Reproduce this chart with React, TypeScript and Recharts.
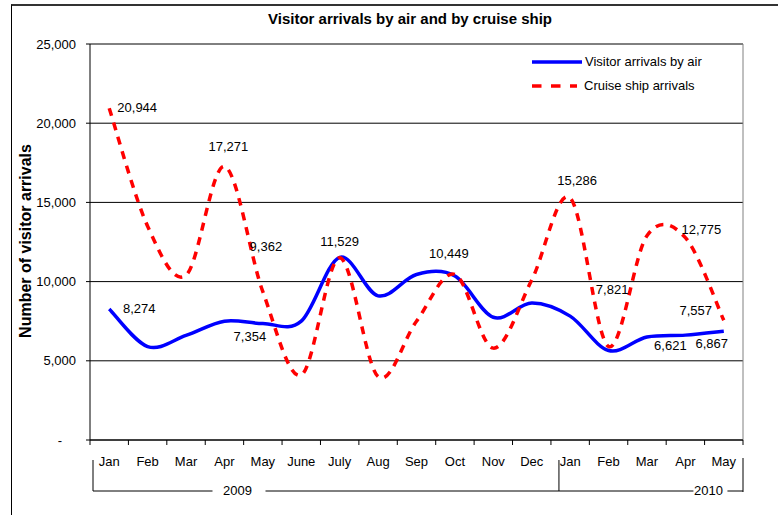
import React from 'react';
import { LineChart, Line, XAxis, YAxis, CartesianGrid, Legend, LabelList, Label } from 'recharts';

// ---------- data ----------
const months = ['Jan', 'Feb', 'Mar', 'Apr', 'May', 'June', 'July', 'Aug', 'Sep', 'Oct', 'Nov', 'Dec', 'Jan', 'Feb', 'Mar', 'Apr', 'May'];
const years = ['2009', '2009', '2009', '2009', '2009', '2009', '2009', '2009', '2009', '2009', '2009', '2009', '2010', '2010', '2010', '2010', '2010'];
const airArrivals = [8274, 5900, 6600, 7500, 7354, 7500, 11529, 9100, 10450, 10350, 7750, 8650, 7821, 5650, 6500, 6621, 6867];
const cruiseArrivals = [20944, 13500, 10400, 17271, 9362, 4100, 11500, 4000, 7500, 10449, 5800, 10100, 15286, 5900, 12900, 12775, 7557];
const airLabelShown = [true, false, false, false, true, false, true, false, false, false, false, false, true, false, false, true, true];
const cruiseLabelShown = [true, false, false, true, true, false, false, false, false, true, false, false, true, false, false, true, true];
const yTicks = [0, 5000, 10000, 15000, 20000, 25000];
const seriesOrder = ['air', 'cruise'];
const seriesNames = { air: 'Visitor arrivals by air', cruise: 'Cruise ship arrivals' };
const chartTitle = 'Visitor arrivals by air and by cruise ship';
const yAxisTitle = 'Number of visitor arrivals';

const data = months.map((m, i) => ({
  key: `${m} ${years[i]}`,
  month: m,
  year: years[i],
  air: airArrivals[i],
  cruise: cruiseArrivals[i],
}));

// ---------- layout / style ----------
const W = 778;
const H = 515;
const MARGIN = { top: 44, right: 35, bottom: 15, left: 10 };
const Y_AXIS_W = 80;
const X_AXIS_H = 60;
const PLOT_W = W - MARGIN.left - Y_AXIS_W - MARGIN.right;
const BAND = PLOT_W / months.length;
const FONT = '"Liberation Sans", Arial, Helvetica, sans-serif';
const BLUE = '#0000FF';
const RED = '#FF0000';

// manual label placements (dx, dy from the point)
const airLabelOffsets: Record<number, [number, number]> = {
  0: [30, 0], 4: [-13, 13], 6: [0, -16], 12: [42, -27], 15: [-15, 10], 16: [-12, 12],
};
const cruiseLabelOffsets: Record<number, [number, number]> = {
  0: [28, -1], 3: [4, -20], 4: [3, -45], 9: [-6, -21], 12: [7, -17], 15: [16, -8], 16: [-28, -10],
};

// year bracket style
const bracketInset = [3, 8];
const yearLabelFrac = [0.32, 0.82];
const yearGap = [[-25, 28], [-15, 19]];

// Catmull-Rom style smoothing (like Excel smoothed lines)
const smoothCurve = (context: any) => {
  let pts: [number, number][] = [];
  return {
    areaStart() {},
    areaEnd() {},
    lineStart() {
      pts = [];
    },
    point(x: number, y: number) {
      pts.push([+x, +y]);
    },
    lineEnd() {
      const n = pts.length;
      if (!n) return;
      context.moveTo(pts[0][0], pts[0][1]);
      for (let i = 0; i < n - 1; i++) {
        const p0 = pts[i - 1] || pts[i];
        const p1 = pts[i];
        const p2 = pts[i + 1];
        const p3 = pts[i + 2] || pts[i + 1];
        context.bezierCurveTo(
          p1[0] + (p2[0] - p0[0]) / 6,
          p1[1] + (p2[1] - p0[1]) / 6,
          p2[0] - (p3[0] - p1[0]) / 6,
          p2[1] - (p3[1] - p1[1]) / 6,
          p2[0],
          p2[1]
        );
      }
    },
  };
};

const fmt = (v: number) => v.toLocaleString('en-US');

const makeLabel = (shown: boolean[], offsets: Record<number, [number, number]>) => (props: any) => {
  const { x, y, value, index } = props;
  if (!shown[index]) return null;
  const [dx, dy] = offsets[index] || [0, -14];
  return (
    <text x={x + dx} y={y + dy} textAnchor="middle" dominantBaseline="central" fontSize={13} fontFamily={FONT} fill="#000">
      {fmt(value)}
    </text>
  );
};

const groups = (() => {
  const g: { year: string; start: number; count: number }[] = [];
  years.forEach((y, i) => {
    if (!g.length || g[g.length - 1].year !== y) g.push({ year: y, start: i, count: 1 });
    else g[g.length - 1].count++;
  });
  return g;
})();

const XTick = (props: any) => {
  const { x, y, payload } = props;
  const i = payload.index;
  const left = x - BAND / 2;
  const right = x + BAND / 2;
  const els: React.ReactNode[] = [];
  els.push(<line key="t" x1={left} x2={left} y1={y} y2={y + 5} stroke="#000" />);
  if (i === months.length - 1) els.push(<line key="t2" x1={right} x2={right} y1={y} y2={y + 5} stroke="#000" />);
  els.push(
    <text key="m" x={x} y={y + 21} textAnchor="middle" dominantBaseline="central" fontSize={13} fontFamily={FONT} fill="#000">
      {months[i]}
    </text>
  );
  if (i === 0) {
    const by = y + 51;
    const left0 = left;
    const last = groups[groups.length - 1];
    const endX = left0 + (last.start + last.count) * BAND;
    const firstV = left0 + bracketInset[0];
    els.push(<line key="h" x1={firstV} x2={endX} y1={by} y2={by} stroke="#000" />);
    els.push(<line key="ve" x1={endX} x2={endX} y1={y + 18} y2={by + 1} stroke="#000" />);
    groups.forEach((g, gi) => {
      const gx = left0 + g.start * BAND + bracketInset[gi];
      els.push(<line key={`v${gi}`} x1={gx} x2={gx} y1={y + 20} y2={by} stroke="#000" />);
      const cx = left0 + (g.start + g.count * yearLabelFrac[gi]) * BAND;
      const [g0, g1] = yearGap[gi];
      els.push(<rect key={`r${gi}`} x={cx + g0} y={by - 3} width={g1 - g0} height={6} fill="#fff" />);
      els.push(
        <text key={`y${gi}`} x={cx} y={by - 1} textAnchor="middle" dominantBaseline="central" fontSize={13} fontFamily={FONT} fill="#000">
          {g.year}
        </text>
      );
    });
  }
  return <g>{els}</g>;
};

const YTick = (props: any) => {
  const { x, y, payload } = props;
  const v = payload.value;
  if (v === 0) {
    return (
      <text x={x - 16} y={y} textAnchor="middle" dominantBaseline="central" fontSize={13} fontFamily={FONT} fill="#000">
        -
      </text>
    );
  }
  return (
    <text x={x} y={y} textAnchor="end" dominantBaseline="central" fontSize={13} fontFamily={FONT} fill="#000">
      {fmt(v)}
    </text>
  );
};

const YTitle = (props: any) => {
  const vb = props.viewBox || { x: 10, y: 44, width: 80, height: 396 };
  const cx = vb.x + 15;
  const cy = vb.y + vb.height / 2 - 1;
  return (
    <text
      x={cx}
      y={cy}
      transform={`rotate(-90, ${cx}, ${cy})`}
      textAnchor="middle"
      dominantBaseline="central"
      fontSize={16}
      fontWeight="bold"
      fontFamily={FONT}
      fill="#000"
    >
      {yAxisTitle}
    </text>
  );
};

const LegendContent = (props: any) => {
  const items = [...(props.payload || [])].sort(
    (a: any, b: any) => seriesOrder.indexOf(a.dataKey) - seriesOrder.indexOf(b.dataKey)
  );
  return (
    <div style={{ fontFamily: FONT, fontSize: 13, color: '#000' }}>
      {items.map((it: any, k: number) => {
        const dash = it.payload && it.payload.strokeDasharray;
        return (
          <div key={k} style={{ display: 'flex', alignItems: 'center', height: 24 }}>
            <svg width={52} height={10} style={{ display: 'block' }}>
              <line
                x1={0}
                y1={5}
                x2={dash ? 45 : 50}
                y2={5}
                stroke={it.color}
                strokeWidth={3.5}
                strokeDasharray={dash ? '9.5 9.5' : undefined}
              />
            </svg>
            <span style={{ marginLeft: dash ? 0 : 1, lineHeight: '24px' }}>{it.value}</span>
          </div>
        );
      })}
    </div>
  );
};

export default function App() {
  return (
    <div style={{ position: 'absolute', left: 0, top: 0, width: W, height: H, background: '#fff', overflow: 'hidden' }}>
      <div
        style={{
          position: 'absolute',
          left: 11,
          top: 4,
          width: W - 11,
          height: H - 4,
          borderTop: '2px solid #333',
          borderLeft: '1px solid #000',
          boxSizing: 'border-box',
        }}
      />
      <div
        style={{
          position: 'absolute',
          left: 110,
          width: 600,
          top: 10,
          textAlign: 'center',
          fontFamily: FONT,
          fontWeight: 'bold',
          fontSize: 15,
          lineHeight: '18px',
          color: '#000',
        }}
      >
        {chartTitle}
      </div>
      <div style={{ position: 'absolute', left: 0, top: 0 }}>
        <LineChart width={W} height={H} data={data} margin={MARGIN}>
          <CartesianGrid vertical={false} stroke="#000" />
          <CartesianGrid vertical={false} horizontalCoordinatesGenerator={({ offset }: any) => [offset.top]} stroke="#808080" />
          <CartesianGrid horizontal={false} verticalCoordinatesGenerator={({ offset }: any) => [offset.left + offset.width]} stroke="#808080" />
          <XAxis
            dataKey="key"
            scale="band"
            height={X_AXIS_H}
            interval={0}
            tickSize={0}
            tickMargin={0}
            tickLine={false}
            axisLine={{ stroke: '#000' }}
            tick={<XTick />}
          />
          <YAxis
            width={Y_AXIS_W}
            domain={[0, 25000]}
            ticks={yTicks}
            interval={0}
            tickSize={4}
            tickMargin={10}
            axisLine={{ stroke: '#000' }}
            tickLine={{ stroke: '#000' }}
            tick={<YTick />}
          >
            <Label content={<YTitle />} />
          </YAxis>
          <Legend
            layout="horizontal"
            verticalAlign="middle"
            align="center"
            content={<LegendContent />}
            wrapperStyle={{ left: 532, top: 50, width: 200, height: 48 }}
          />
          <Line
            name={seriesNames.air}
            dataKey="air"
            type={smoothCurve as any}
            stroke={BLUE}
            strokeWidth={3.5}
            dot={false}
            activeDot={false}
            isAnimationActive={false}
          >
            <LabelList dataKey="air" content={makeLabel(airLabelShown, airLabelOffsets)} />
          </Line>
          <Line
            name={seriesNames.cruise}
            dataKey="cruise"
            type={smoothCurve as any}
            stroke={RED}
            strokeWidth={3.5}
            strokeDasharray="8 7"
            dot={false}
            activeDot={false}
            isAnimationActive={false}
          >
            <LabelList dataKey="cruise" content={makeLabel(cruiseLabelShown, cruiseLabelOffsets)} />
          </Line>
        </LineChart>
      </div>
    </div>
  );
}
